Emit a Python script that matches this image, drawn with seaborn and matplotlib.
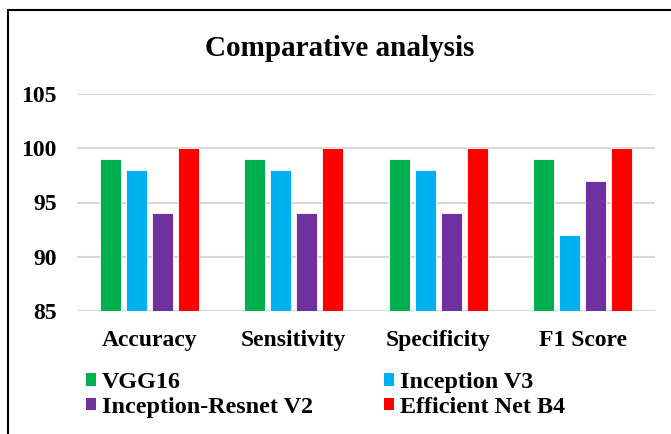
import matplotlib
matplotlib.use("Agg")
import matplotlib.pyplot as plt
from matplotlib.patches import Rectangle, Patch
import seaborn as sns
import pandas as pd

metrics = ["Accuracy", "Sensitivity", "Specificity", "F1 Score"]
models = ["VGG16", "Inception V3", "Inception-Resnet V2", "Efficient Net B4"]
vgg16 = [99, 99, 99, 99]
inception_v3 = [98, 98, 98, 92]
inception_resnet_v2 = [94, 94, 94, 97]
efficient_net_b4 = [100, 100, 100, 100]
y_ticks = [85, 90, 95, 100, 105]
colors = ["#00B050", "#00B0F0", "#7030A0", "#FF0000"]

rows = []
for model, vals in zip(models, [vgg16, inception_v3, inception_resnet_v2, efficient_net_b4]):
    for metric, v in zip(metrics, vals):
        rows.append({"Metric": metric, "Model": model, "Score": v})
df = pd.DataFrame(rows)

sns.set_style("white")
plt.rcParams["font.family"] = ["Liberation Serif", "DejaVu Serif"]
plt.rcParams["font.weight"] = "bold"
plt.rcParams["text.color"] = "black"
plt.rcParams["xtick.color"] = "black"
plt.rcParams["ytick.color"] = "black"

W, H = 671, 434
fig = plt.figure(figsize=(W / 100, H / 100), dpi=100)
ax = fig.add_axes([77 / W, 1 - 311 / H, (655 - 77) / W, (311 - 94) / H])

sns.barplot(data=df, x="Metric", y="Score", hue="Model", order=metrics,
            hue_order=models, palette=colors, saturation=1, width=0.72, gap=0.19,
            edgecolor="white", linewidth=0.6, legend=False, ax=ax, zorder=3)

ax.set_ylim(85, 105)
ax.set_yticks(y_ticks)
ax.set_yticklabels([str(t) for t in y_ticks], fontsize=17, fontweight="bold")
ax.set_xticks(range(len(metrics)))
ax.set_xticklabels(metrics, fontsize=17, fontweight="bold")
ax.set_xlabel("")
ax.set_ylabel("")
ax.tick_params(axis="y", length=0, pad=14.5)
ax.tick_params(axis="x", length=0, pad=13.5)
ax.grid(axis="y", color="#D9D9D9", linewidth=1.5, zorder=0)
ax.grid(axis="x", visible=False)
for side in ["top", "right", "left", "bottom"]:
    ax.spines[side].set_visible(False)

fig.text(340 / W, 1 - 48 / H, "Comparative analysis", ha="center", va="center",
         fontsize=21, fontweight="bold")

# legend laid out row by row: column-first order of the entries
leg_order = [0, 2, 1, 3]
handles = [Patch(facecolor=colors[i], edgecolor="none") for i in leg_order]
labels = [models[i] for i in leg_order]
fig.legend(handles, labels, ncol=2, loc="upper left",
           bbox_to_anchor=(86 / W, 1 - 372 / H), frameon=False,
           prop={"family": "Liberation Serif", "weight": "bold", "size": 17.4},
           handlelength=0.42, handleheight=0.42, handletextpad=0.25,
           columnspacing=2.94, labelspacing=0.16, borderpad=0, borderaxespad=0)

fig.patches.append(Rectangle((8 / W, -0.1), 1.2, 1 - 10 / H + 0.1,
                             transform=fig.transFigure, fill=False,
                             edgecolor="black", linewidth=1.5))

fig.savefig("out.png", dpi=100)
